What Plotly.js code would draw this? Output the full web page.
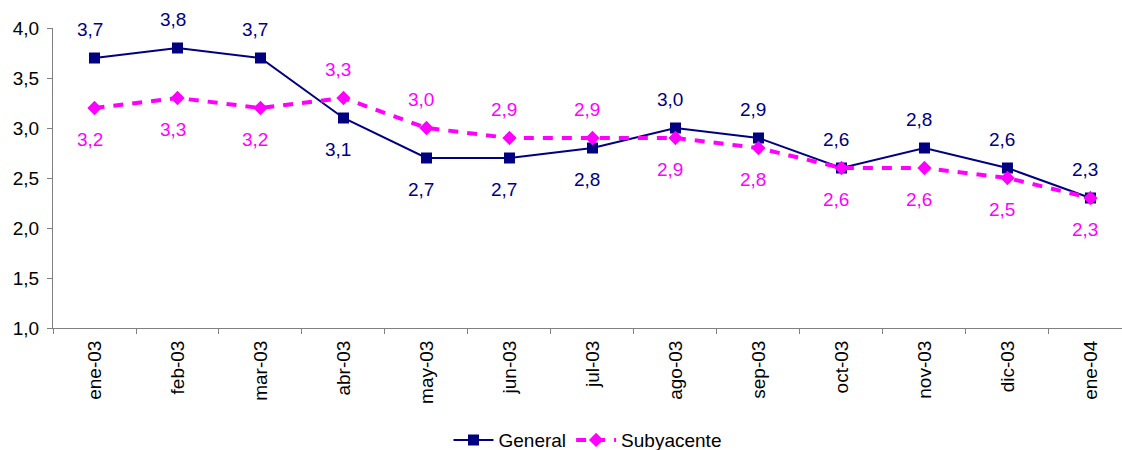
<!DOCTYPE html>
<html><head><meta charset="utf-8">
<script src="https://cdn.plot.ly/plotly-3.0.1.min.js"></script>
<style>html,body{margin:0;padding:0;background:#fff}#chart{width:1122px;height:450px}</style>
</head><body><div id="chart"></div>
<script>
const categories = ['ene-03','feb-03','mar-03','abr-03','may-03','jun-03','jul-03','ago-03','sep-03','oct-03','nov-03','dic-03','ene-04'];
const general = [3.7,3.8,3.7,3.1,2.7,2.7,2.8,3.0,2.9,2.6,2.8,2.6,2.3];
const subyacente = [3.2,3.3,3.2,3.3,3.0,2.9,2.9,2.9,2.8,2.6,2.6,2.5,2.3];
const generalLabelSide = ['above','above','above','below','below','below','below','above','above','above','above','above','above'];
const subyacenteLabelSide = ['below','below','below','above','above','above','above','below','below','below','below','below','below'];
const yTicks = [1.0,1.5,2.0,2.5,3.0,3.5,4.0];

const NAVY = '#000080', MAG = '#FF00FF';
const FONT = 'Liberation Sans, Arial, sans-serif';

const traces = [
  {x: categories, y: general, name: 'General', type: 'scatter', mode: 'lines+markers',
   line: {color: NAVY, width: 2}, marker: {symbol: 'square', size: 11, color: NAVY}},
  {x: categories, y: subyacente, name: 'Subyacente', type: 'scatter', mode: 'lines+markers',
   line: {color: MAG, width: 4, dash: '10px,9px'}, marker: {symbol: 'diamond', size: 11, color: MAG}}
];

function labels(vals, sides, color) {
  return vals.map((v, i) => ({
    x: categories[i], y: v, xref: 'x', yref: 'y', showarrow: false,
    text: v.toFixed(1).replace('.', ','),
    yshift: sides[i] === 'above' ? 29 : -31, xshift: -5,
    font: {family: FONT, size: 19, color: color}
  }));
}

const layout = {
  width: 1122, height: 450,
  margin: {l: 53, r: 0, t: 28, b: 122, autoexpand: false},
  paper_bgcolor: '#fff', plot_bgcolor: '#fff',
  separators: ',.',
  showlegend: true,
  legend: {orientation: 'h', x: 0.5, xanchor: 'center', yref: 'container', y: 0.022, yanchor: 'middle',
           font: {family: FONT, size: 19, color: '#000'}, itemwidth: 40},
  xaxis: {type: 'category', range: [-0.5, 12.38], showline: true, linecolor: '#808080', linewidth: 1,
          ticks: 'outside', tickson: 'boundaries', ticklen: 5, tickcolor: '#808080',
          tickangle: -90, showgrid: false, zeroline: false, automargin: false, ticklabelstandoff: 4,
          tickfont: {family: FONT, size: 19, color: '#000'}},
  yaxis: {range: [1, 4], tickvals: yTicks, tickformat: '.1f', showline: true, linecolor: '#808080', linewidth: 1,
          ticks: 'outside', ticklen: 5, tickcolor: '#808080', showgrid: false, zeroline: false, automargin: false,
          ticklabelstandoff: 4,
          tickfont: {family: FONT, size: 19, color: '#000'}},
  annotations: labels(general, generalLabelSide, NAVY).concat(labels(subyacente, subyacenteLabelSide, MAG))
};

Plotly.newPlot('chart', traces, layout, {displayModeBar: false, staticPlot: true});
</script></body></html>
